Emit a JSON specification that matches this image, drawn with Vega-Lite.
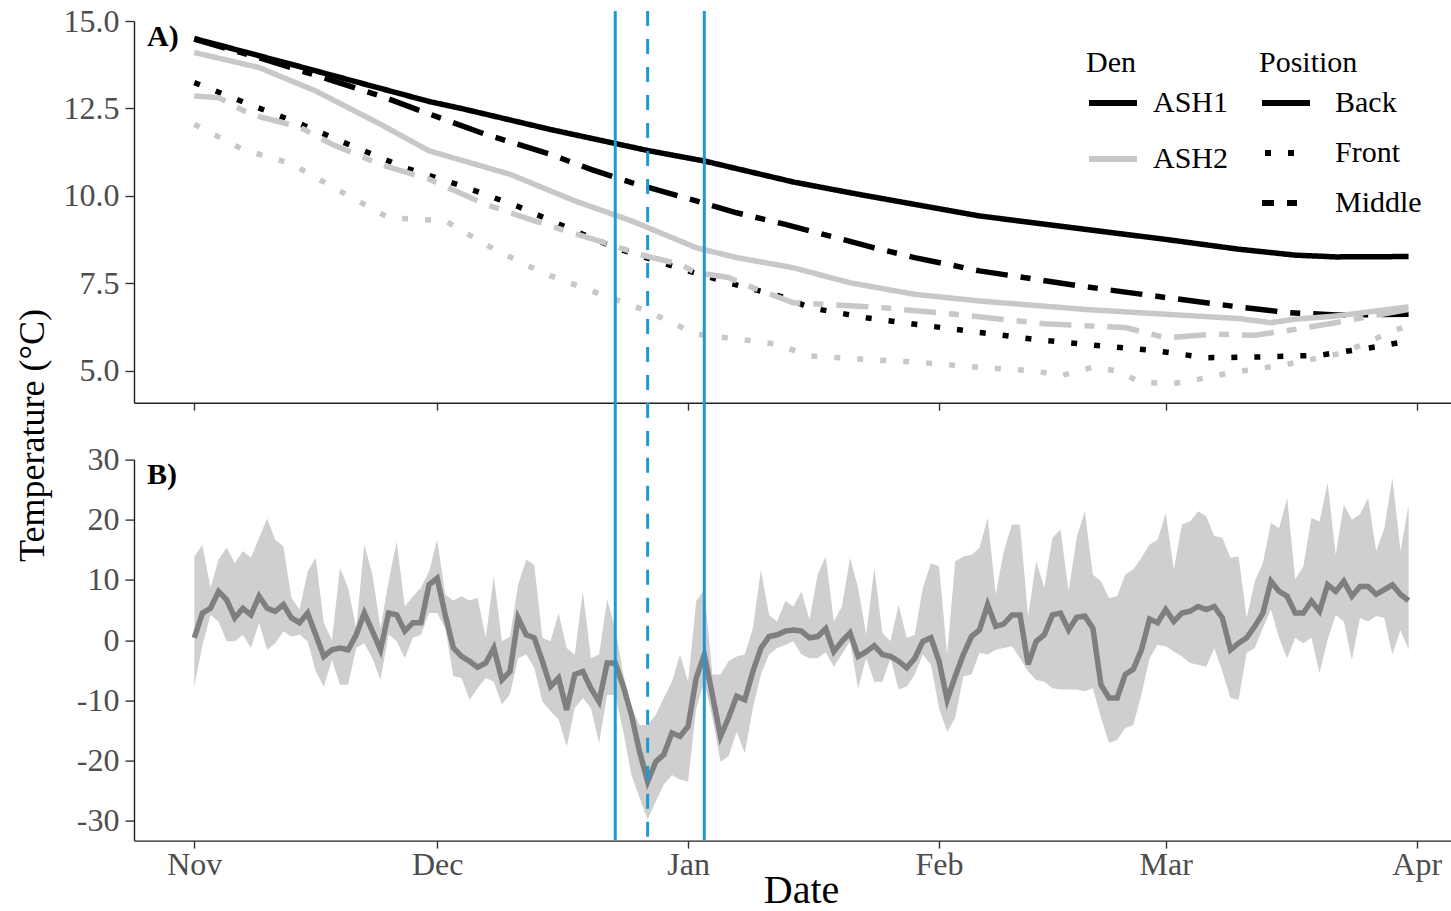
{
  "$schema": "https://vega.github.io/schema/vega-lite/v6.json",
  "background": "white",
  "padding": {"left": 14, "top": 5, "right": 0, "bottom": 0},
  "bounds": "flush",
  "spacing": 56.6,
  "config": {
    "font": "Liberation Serif",
    "view": {"stroke": null},
    "axis": {
      "grid": false,
      "domainColor": "#222222",
      "domainWidth": 1.4,
      "tickColor": "#333333",
      "tickWidth": 1.4,
      "labelFont": "Liberation Serif",
      "labelFontSize": 32,
      "labelColor": "#4d4d4d",
      "titleFont": "Liberation Serif",
      "titleFontSize": 36,
      "titleFontWeight": "normal",
      "titleColor": "#000000"
    }
  },
  "datasets": {
    "den": [
      {"date": "2017-11-01", "den": "ASH1", "pos": "Back", "temp": 14.5},
      {"date": "2017-11-14", "den": "ASH1", "pos": "Back", "temp": 13.7},
      {"date": "2017-11-30", "den": "ASH1", "pos": "Back", "temp": 12.7},
      {"date": "2017-12-04", "den": "ASH1", "pos": "Back", "temp": 12.5},
      {"date": "2017-12-15", "den": "ASH1", "pos": "Back", "temp": 11.9},
      {"date": "2017-12-23", "den": "ASH1", "pos": "Back", "temp": 11.5},
      {"date": "2017-12-27", "den": "ASH1", "pos": "Back", "temp": 11.3},
      {"date": "2018-01-03", "den": "ASH1", "pos": "Back", "temp": 11.0},
      {"date": "2018-01-14", "den": "ASH1", "pos": "Back", "temp": 10.4},
      {"date": "2018-01-22", "den": "ASH1", "pos": "Back", "temp": 10.05},
      {"date": "2018-01-29", "den": "ASH1", "pos": "Back", "temp": 9.76},
      {"date": "2018-02-06", "den": "ASH1", "pos": "Back", "temp": 9.43},
      {"date": "2018-02-19", "den": "ASH1", "pos": "Back", "temp": 9.05},
      {"date": "2018-03-01", "den": "ASH1", "pos": "Back", "temp": 8.76},
      {"date": "2018-03-10", "den": "ASH1", "pos": "Back", "temp": 8.48},
      {"date": "2018-03-17", "den": "ASH1", "pos": "Back", "temp": 8.31},
      {"date": "2018-03-22", "den": "ASH1", "pos": "Back", "temp": 8.26},
      {"date": "2018-03-31", "den": "ASH1", "pos": "Back", "temp": 8.27},

      {"date": "2017-11-01", "den": "ASH1", "pos": "Middle", "temp": 14.48},
      {"date": "2017-11-09", "den": "ASH1", "pos": "Middle", "temp": 13.95},
      {"date": "2017-11-15", "den": "ASH1", "pos": "Middle", "temp": 13.52},
      {"date": "2017-11-24", "den": "ASH1", "pos": "Middle", "temp": 12.86},
      {"date": "2017-11-29", "den": "ASH1", "pos": "Middle", "temp": 12.43},
      {"date": "2017-12-07", "den": "ASH1", "pos": "Middle", "temp": 11.76},
      {"date": "2017-12-15", "den": "ASH1", "pos": "Middle", "temp": 11.19},
      {"date": "2017-12-20", "den": "ASH1", "pos": "Middle", "temp": 10.76},
      {"date": "2017-12-25", "den": "ASH1", "pos": "Middle", "temp": 10.38},
      {"date": "2018-01-02", "den": "ASH1", "pos": "Middle", "temp": 9.86},
      {"date": "2018-01-07", "den": "ASH1", "pos": "Middle", "temp": 9.52},
      {"date": "2018-01-13", "den": "ASH1", "pos": "Middle", "temp": 9.19},
      {"date": "2018-01-24", "den": "ASH1", "pos": "Middle", "temp": 8.52},
      {"date": "2018-01-29", "den": "ASH1", "pos": "Middle", "temp": 8.24},
      {"date": "2018-02-06", "den": "ASH1", "pos": "Middle", "temp": 7.86},
      {"date": "2018-02-19", "den": "ASH1", "pos": "Middle", "temp": 7.41},
      {"date": "2018-03-01", "den": "ASH1", "pos": "Middle", "temp": 7.10},
      {"date": "2018-03-09", "den": "ASH1", "pos": "Middle", "temp": 6.86},
      {"date": "2018-03-16", "den": "ASH1", "pos": "Middle", "temp": 6.67},
      {"date": "2018-03-22", "den": "ASH1", "pos": "Middle", "temp": 6.6},
      {"date": "2018-03-31", "den": "ASH1", "pos": "Middle", "temp": 6.62},

      {"date": "2017-11-01", "den": "ASH1", "pos": "Front", "temp": 13.24},
      {"date": "2017-11-08", "den": "ASH1", "pos": "Front", "temp": 12.6},
      {"date": "2017-11-14", "den": "ASH1", "pos": "Front", "temp": 12.07},
      {"date": "2017-11-21", "den": "ASH1", "pos": "Front", "temp": 11.38},
      {"date": "2017-11-27", "den": "ASH1", "pos": "Front", "temp": 10.81},
      {"date": "2017-12-04", "den": "ASH1", "pos": "Front", "temp": 10.29},
      {"date": "2017-12-11", "den": "ASH1", "pos": "Front", "temp": 9.70},
      {"date": "2017-12-17", "den": "ASH1", "pos": "Front", "temp": 9.10},
      {"date": "2017-12-23", "den": "ASH1", "pos": "Front", "temp": 8.52},
      {"date": "2017-12-30", "den": "ASH1", "pos": "Front", "temp": 8.0},
      {"date": "2018-01-06", "den": "ASH1", "pos": "Front", "temp": 7.52},
      {"date": "2018-01-13", "den": "ASH1", "pos": "Front", "temp": 7.10},
      {"date": "2018-01-16", "den": "ASH1", "pos": "Front", "temp": 6.81},
      {"date": "2018-01-23", "den": "ASH1", "pos": "Front", "temp": 6.52},
      {"date": "2018-01-30", "den": "ASH1", "pos": "Front", "temp": 6.31},
      {"date": "2018-02-06", "den": "ASH1", "pos": "Front", "temp": 6.10},
      {"date": "2018-02-13", "den": "ASH1", "pos": "Front", "temp": 5.90},
      {"date": "2018-02-20", "den": "ASH1", "pos": "Front", "temp": 5.74},
      {"date": "2018-02-27", "den": "ASH1", "pos": "Front", "temp": 5.6},
      {"date": "2018-03-06", "den": "ASH1", "pos": "Front", "temp": 5.38},
      {"date": "2018-03-13", "den": "ASH1", "pos": "Front", "temp": 5.4},
      {"date": "2018-03-20", "den": "ASH1", "pos": "Front", "temp": 5.45},
      {"date": "2018-03-27", "den": "ASH1", "pos": "Front", "temp": 5.69},
      {"date": "2018-03-31", "den": "ASH1", "pos": "Front", "temp": 5.86},

      {"date": "2017-11-01", "den": "ASH2", "pos": "Back", "temp": 14.1},
      {"date": "2017-11-09", "den": "ASH2", "pos": "Back", "temp": 13.67},
      {"date": "2017-11-16", "den": "ASH2", "pos": "Back", "temp": 13.0},
      {"date": "2017-11-24", "den": "ASH2", "pos": "Back", "temp": 12.05},
      {"date": "2017-11-30", "den": "ASH2", "pos": "Back", "temp": 11.29},
      {"date": "2017-12-10", "den": "ASH2", "pos": "Back", "temp": 10.62},
      {"date": "2017-12-18", "den": "ASH2", "pos": "Back", "temp": 9.86},
      {"date": "2017-12-25", "den": "ASH2", "pos": "Back", "temp": 9.29},
      {"date": "2018-01-01", "den": "ASH2", "pos": "Back", "temp": 8.62},
      {"date": "2018-01-02", "den": "ASH2", "pos": "Back", "temp": 8.52},
      {"date": "2018-01-07", "den": "ASH2", "pos": "Back", "temp": 8.24},
      {"date": "2018-01-14", "den": "ASH2", "pos": "Back", "temp": 7.95},
      {"date": "2018-01-21", "den": "ASH2", "pos": "Back", "temp": 7.52},
      {"date": "2018-01-29", "den": "ASH2", "pos": "Back", "temp": 7.19},
      {"date": "2018-02-06", "den": "ASH2", "pos": "Back", "temp": 7.0},
      {"date": "2018-02-19", "den": "ASH2", "pos": "Back", "temp": 6.76},
      {"date": "2018-03-01", "den": "ASH2", "pos": "Back", "temp": 6.62},
      {"date": "2018-03-10", "den": "ASH2", "pos": "Back", "temp": 6.50},
      {"date": "2018-03-14", "den": "ASH2", "pos": "Back", "temp": 6.38},
      {"date": "2018-03-17", "den": "ASH2", "pos": "Back", "temp": 6.48},
      {"date": "2018-03-22", "den": "ASH2", "pos": "Back", "temp": 6.57},
      {"date": "2018-03-31", "den": "ASH2", "pos": "Back", "temp": 6.83},

      {"date": "2017-11-01", "den": "ASH2", "pos": "Middle", "temp": 12.86},
      {"date": "2017-11-04", "den": "ASH2", "pos": "Middle", "temp": 12.81},
      {"date": "2017-11-08", "den": "ASH2", "pos": "Middle", "temp": 12.33},
      {"date": "2017-11-14", "den": "ASH2", "pos": "Middle", "temp": 11.97},
      {"date": "2017-11-18", "den": "ASH2", "pos": "Middle", "temp": 11.48},
      {"date": "2017-11-24", "den": "ASH2", "pos": "Middle", "temp": 10.9},
      {"date": "2017-11-30", "den": "ASH2", "pos": "Middle", "temp": 10.48},
      {"date": "2017-12-07", "den": "ASH2", "pos": "Middle", "temp": 9.76},
      {"date": "2017-12-13", "den": "ASH2", "pos": "Middle", "temp": 9.29},
      {"date": "2017-12-17", "den": "ASH2", "pos": "Middle", "temp": 9.0},
      {"date": "2017-12-23", "den": "ASH2", "pos": "Middle", "temp": 8.57},
      {"date": "2017-12-26", "den": "ASH2", "pos": "Middle", "temp": 8.33},
      {"date": "2017-12-31", "den": "ASH2", "pos": "Middle", "temp": 8.05},
      {"date": "2018-01-02", "den": "ASH2", "pos": "Middle", "temp": 7.81},
      {"date": "2018-01-06", "den": "ASH2", "pos": "Middle", "temp": 7.67},
      {"date": "2018-01-09", "den": "ASH2", "pos": "Middle", "temp": 7.38},
      {"date": "2018-01-14", "den": "ASH2", "pos": "Middle", "temp": 6.95},
      {"date": "2018-01-24", "den": "ASH2", "pos": "Middle", "temp": 6.83},
      {"date": "2018-02-03", "den": "ASH2", "pos": "Middle", "temp": 6.62},
      {"date": "2018-02-14", "den": "ASH2", "pos": "Middle", "temp": 6.35},
      {"date": "2018-02-24", "den": "ASH2", "pos": "Middle", "temp": 6.24},
      {"date": "2018-03-01", "den": "ASH2", "pos": "Middle", "temp": 5.95},
      {"date": "2018-03-07", "den": "ASH2", "pos": "Middle", "temp": 6.05},
      {"date": "2018-03-12", "den": "ASH2", "pos": "Middle", "temp": 6.02},
      {"date": "2018-03-17", "den": "ASH2", "pos": "Middle", "temp": 6.19},
      {"date": "2018-03-22", "den": "ASH2", "pos": "Middle", "temp": 6.38},
      {"date": "2018-03-31", "den": "ASH2", "pos": "Middle", "temp": 6.76},

      {"date": "2017-11-01", "den": "ASH2", "pos": "Front", "temp": 12.05},
      {"date": "2017-11-07", "den": "ASH2", "pos": "Front", "temp": 11.33},
      {"date": "2017-11-13", "den": "ASH2", "pos": "Front", "temp": 10.92},
      {"date": "2017-11-19", "den": "ASH2", "pos": "Front", "temp": 10.14},
      {"date": "2017-11-25", "den": "ASH2", "pos": "Front", "temp": 9.38},
      {"date": "2017-12-02", "den": "ASH2", "pos": "Front", "temp": 9.29},
      {"date": "2017-12-08", "den": "ASH2", "pos": "Front", "temp": 8.48},
      {"date": "2017-12-14", "den": "ASH2", "pos": "Front", "temp": 7.81},
      {"date": "2017-12-20", "den": "ASH2", "pos": "Front", "temp": 7.29},
      {"date": "2017-12-27", "den": "ASH2", "pos": "Front", "temp": 6.71},
      {"date": "2018-01-02", "den": "ASH2", "pos": "Front", "temp": 6.05},
      {"date": "2018-01-09", "den": "ASH2", "pos": "Front", "temp": 5.86},
      {"date": "2018-01-12", "den": "ASH2", "pos": "Front", "temp": 5.76},
      {"date": "2018-01-16", "den": "ASH2", "pos": "Front", "temp": 5.43},
      {"date": "2018-01-23", "den": "ASH2", "pos": "Front", "temp": 5.33},
      {"date": "2018-01-30", "den": "ASH2", "pos": "Front", "temp": 5.24},
      {"date": "2018-02-06", "den": "ASH2", "pos": "Front", "temp": 5.10},
      {"date": "2018-02-13", "den": "ASH2", "pos": "Front", "temp": 5.0},
      {"date": "2018-02-16", "den": "ASH2", "pos": "Front", "temp": 4.86},
      {"date": "2018-02-20", "den": "ASH2", "pos": "Front", "temp": 5.11},
      {"date": "2018-02-23", "den": "ASH2", "pos": "Front", "temp": 5.0},
      {"date": "2018-02-26", "den": "ASH2", "pos": "Front", "temp": 4.67},
      {"date": "2018-03-02", "den": "ASH2", "pos": "Front", "temp": 4.64},
      {"date": "2018-03-05", "den": "ASH2", "pos": "Front", "temp": 4.76},
      {"date": "2018-03-09", "den": "ASH2", "pos": "Front", "temp": 4.95},
      {"date": "2018-03-16", "den": "ASH2", "pos": "Front", "temp": 5.19},
      {"date": "2018-03-23", "den": "ASH2", "pos": "Front", "temp": 5.52},
      {"date": "2018-03-29", "den": "ASH2", "pos": "Front", "temp": 6.14},
      {"date": "2018-03-31", "den": "ASH2", "pos": "Front", "temp": 6.29}
    ],
    "air": [
      {"date": "2017-11-01", "mean": 0.4, "lo": -7.7, "hi": 13.9},
      {"date": "2017-11-02", "mean": 4.5, "lo": -0.8, "hi": 15.8},
      {"date": "2017-11-03", "mean": 5.3, "lo": 4.2, "hi": 8.7},
      {"date": "2017-11-04", "mean": 8.1, "lo": 3.1, "hi": 13.4},
      {"date": "2017-11-05", "mean": 6.7, "lo": -0.2, "hi": 15.4},
      {"date": "2017-11-06", "mean": 3.7, "lo": -0.2, "hi": 12.8},
      {"date": "2017-11-07", "mean": 5.3, "lo": 0.9, "hi": 14.8},
      {"date": "2017-11-08", "mean": 4.2, "lo": -1.3, "hi": 13.7},
      {"date": "2017-11-09", "mean": 7.3, "lo": 2.9, "hi": 17.0},
      {"date": "2017-11-10", "mean": 5.3, "lo": -1.6, "hi": 20.2},
      {"date": "2017-11-11", "mean": 4.8, "lo": -0.5, "hi": 16.7},
      {"date": "2017-11-12", "mean": 5.9, "lo": 1.5, "hi": 15.6},
      {"date": "2017-11-13", "mean": 3.7, "lo": 0.6, "hi": 7.0},
      {"date": "2017-11-14", "mean": 2.9, "lo": 0.9, "hi": 5.1},
      {"date": "2017-11-15", "mean": 4.5, "lo": -0.2, "hi": 11.4},
      {"date": "2017-11-16", "mean": 0.9, "lo": -5.2, "hi": 13.7},
      {"date": "2017-11-17", "mean": -2.7, "lo": -7.7, "hi": 2.9},
      {"date": "2017-11-18", "mean": -1.6, "lo": -3.3, "hi": 0.0},
      {"date": "2017-11-19", "mean": -1.3, "lo": -7.4, "hi": 12.0},
      {"date": "2017-11-20", "mean": -1.6, "lo": -7.4, "hi": 8.7},
      {"date": "2017-11-21", "mean": 0.9, "lo": -1.3, "hi": 2.0},
      {"date": "2017-11-22", "mean": 4.5, "lo": -0.5, "hi": 15.9},
      {"date": "2017-11-23", "mean": 1.5, "lo": -3.0, "hi": 10.9},
      {"date": "2017-11-24", "mean": -1.6, "lo": -6.6, "hi": 2.0},
      {"date": "2017-11-25", "mean": 4.5, "lo": 0.9, "hi": 9.8},
      {"date": "2017-11-26", "mean": 4.2, "lo": -0.2, "hi": 16.4},
      {"date": "2017-11-27", "mean": 1.5, "lo": -3.0, "hi": 5.6},
      {"date": "2017-11-28", "mean": 2.9, "lo": 0.4, "hi": 7.3},
      {"date": "2017-11-29", "mean": 2.9, "lo": 0.9, "hi": 8.7},
      {"date": "2017-11-30", "mean": 9.2, "lo": 4.5, "hi": 11.4},
      {"date": "2017-12-01", "mean": 10.3, "lo": 4.5, "hi": 16.7},
      {"date": "2017-12-02", "mean": 4.2, "lo": 2.0, "hi": 7.6},
      {"date": "2017-12-03", "mean": -1.3, "lo": -6.0, "hi": 6.6},
      {"date": "2017-12-04", "mean": -2.7, "lo": -6.3, "hi": 7.3},
      {"date": "2017-12-05", "mean": -3.5, "lo": -9.9, "hi": 6.6},
      {"date": "2017-12-06", "mean": -4.5, "lo": -8.0, "hi": 7.0},
      {"date": "2017-12-07", "mean": -3.8, "lo": -6.3, "hi": 0.4},
      {"date": "2017-12-08", "mean": -1.3, "lo": -6.9, "hi": 10.6},
      {"date": "2017-12-09", "mean": -6.6, "lo": -10.7, "hi": -0.2},
      {"date": "2017-12-10", "mean": -5.2, "lo": -9.0, "hi": 0.6},
      {"date": "2017-12-11", "mean": 3.7, "lo": -3.0, "hi": 9.2},
      {"date": "2017-12-12", "mean": 0.9, "lo": -2.4, "hi": 13.4},
      {"date": "2017-12-13", "mean": 0.4, "lo": -4.6, "hi": 12.5},
      {"date": "2017-12-14", "mean": -3.5, "lo": -10.2, "hi": 0.4},
      {"date": "2017-12-15", "mean": -7.7, "lo": -11.8, "hi": -0.2},
      {"date": "2017-12-16", "mean": -6.3, "lo": -13.2, "hi": 4.5},
      {"date": "2017-12-17", "mean": -11.6, "lo": -17.7, "hi": -1.3},
      {"date": "2017-12-18", "mean": -5.7, "lo": -11.3, "hi": -2.4},
      {"date": "2017-12-19", "mean": -5.2, "lo": -9.6, "hi": 8.1},
      {"date": "2017-12-20", "mean": -8.0, "lo": -11.3, "hi": -3.0},
      {"date": "2017-12-21", "mean": -10.2, "lo": -17.1, "hi": -2.4},
      {"date": "2017-12-22", "mean": -3.8, "lo": -9.1, "hi": 6.7},
      {"date": "2017-12-23", "mean": -3.8, "lo": -9.1, "hi": 2.0},
      {"date": "2017-12-24", "mean": -7.7, "lo": -15.2, "hi": -5.7},
      {"date": "2017-12-25", "mean": -12.4, "lo": -22.4, "hi": -11.3},
      {"date": "2017-12-26", "mean": -18.5, "lo": -26.2, "hi": -14.1},
      {"date": "2017-12-27", "mean": -23.5, "lo": -29.8, "hi": -14.1},
      {"date": "2017-12-28", "mean": -20.2, "lo": -26.8, "hi": -12.4},
      {"date": "2017-12-29", "mean": -19.0, "lo": -24.0, "hi": -9.6},
      {"date": "2017-12-30", "mean": -15.4, "lo": -22.4, "hi": -6.9},
      {"date": "2017-12-31", "mean": -16.0, "lo": -23.2, "hi": -2.4},
      {"date": "2018-01-01", "mean": -14.3, "lo": -23.5, "hi": -6.9},
      {"date": "2018-01-02", "mean": -6.3, "lo": -11.3, "hi": 6.5},
      {"date": "2018-01-03", "mean": -2.4, "lo": -6.9, "hi": 8.4},
      {"date": "2018-01-04", "mean": -9.1, "lo": -12.9, "hi": -5.7},
      {"date": "2018-01-05", "mean": -16.0, "lo": -20.2, "hi": -5.7},
      {"date": "2018-01-06", "mean": -12.9, "lo": -19.3, "hi": -3.5},
      {"date": "2018-01-07", "mean": -9.3, "lo": -15.2, "hi": -2.7},
      {"date": "2018-01-08", "mean": -9.9, "lo": -18.8, "hi": -2.4},
      {"date": "2018-01-09", "mean": -5.2, "lo": -11.3, "hi": 2.0},
      {"date": "2018-01-10", "mean": -1.3, "lo": -5.7, "hi": 11.7},
      {"date": "2018-01-11", "mean": 0.6, "lo": -2.4, "hi": 4.2},
      {"date": "2018-01-12", "mean": 0.9, "lo": -1.3, "hi": 3.1},
      {"date": "2018-01-13", "mean": 1.5, "lo": -0.8, "hi": 6.5},
      {"date": "2018-01-14", "mean": 1.7, "lo": -0.2, "hi": 5.6},
      {"date": "2018-01-15", "mean": 1.5, "lo": -2.4, "hi": 8.1},
      {"date": "2018-01-16", "mean": 0.4, "lo": -3.0, "hi": 3.4},
      {"date": "2018-01-17", "mean": 0.6, "lo": -3.0, "hi": 10.9},
      {"date": "2018-01-18", "mean": 1.9, "lo": -2.0, "hi": 13.9},
      {"date": "2018-01-19", "mean": -1.9, "lo": -4.4, "hi": 3.1},
      {"date": "2018-01-20", "mean": -0.2, "lo": -2.4, "hi": 5.6},
      {"date": "2018-01-21", "mean": 1.2, "lo": -0.2, "hi": 13.7},
      {"date": "2018-01-22", "mean": -2.7, "lo": -8.0, "hi": 8.7},
      {"date": "2018-01-23", "mean": -1.9, "lo": -3.0, "hi": 0.9},
      {"date": "2018-01-24", "mean": -0.9, "lo": -6.9, "hi": 12.0},
      {"date": "2018-01-25", "mean": -2.4, "lo": -6.9, "hi": 1.2},
      {"date": "2018-01-26", "mean": -2.7, "lo": -3.0, "hi": -0.2},
      {"date": "2018-01-27", "mean": -3.5, "lo": -8.2, "hi": 5.9},
      {"date": "2018-01-28", "mean": -4.6, "lo": -7.7, "hi": 0.4},
      {"date": "2018-01-29", "mean": -3.0, "lo": -5.7, "hi": 0.9},
      {"date": "2018-01-30", "mean": -0.2, "lo": -2.4, "hi": 8.7},
      {"date": "2018-01-31", "mean": 0.4, "lo": -4.1, "hi": 12.8},
      {"date": "2018-02-01", "mean": -3.5, "lo": -11.3, "hi": 12.3},
      {"date": "2018-02-02", "mean": -9.9, "lo": -15.2, "hi": -2.4},
      {"date": "2018-02-03", "mean": -6.0, "lo": -12.9, "hi": 13.1},
      {"date": "2018-02-04", "mean": -2.4, "lo": -6.0, "hi": 13.9},
      {"date": "2018-02-05", "mean": 0.6, "lo": -5.7, "hi": 14.2},
      {"date": "2018-02-06", "mean": 1.7, "lo": -2.1, "hi": 15.3},
      {"date": "2018-02-07", "mean": 5.9, "lo": -2.4, "hi": 20.3},
      {"date": "2018-02-08", "mean": 2.3, "lo": -1.6, "hi": 7.6},
      {"date": "2018-02-09", "mean": 2.7, "lo": -1.3, "hi": 14.8},
      {"date": "2018-02-10", "mean": 4.2, "lo": -1.0, "hi": 19.2},
      {"date": "2018-02-11", "mean": 4.2, "lo": -3.0, "hi": 19.2},
      {"date": "2018-02-12", "mean": -4.0, "lo": -5.2, "hi": 4.0},
      {"date": "2018-02-13", "mean": -0.2, "lo": -6.6, "hi": 13.1},
      {"date": "2018-02-14", "mean": 0.9, "lo": -6.9, "hi": 8.7},
      {"date": "2018-02-15", "mean": 4.2, "lo": -8.0, "hi": 17.0},
      {"date": "2018-02-16", "mean": 4.5, "lo": -8.2, "hi": 18.4},
      {"date": "2018-02-17", "mean": 1.7, "lo": -8.2, "hi": 8.1},
      {"date": "2018-02-18", "mean": 3.8, "lo": -8.2, "hi": 17.0},
      {"date": "2018-02-19", "mean": 4.0, "lo": -8.5, "hi": 21.4},
      {"date": "2018-02-20", "mean": 2.0, "lo": -8.0, "hi": 10.9},
      {"date": "2018-02-21", "mean": -7.4, "lo": -12.9, "hi": 9.8},
      {"date": "2018-02-22", "mean": -9.6, "lo": -17.1, "hi": 7.0},
      {"date": "2018-02-23", "mean": -9.6, "lo": -16.6, "hi": 7.3},
      {"date": "2018-02-24", "mean": -5.7, "lo": -14.6, "hi": 10.9},
      {"date": "2018-02-25", "mean": -4.8, "lo": -14.1, "hi": 11.8},
      {"date": "2018-02-26", "mean": -1.6, "lo": -9.0, "hi": 13.7},
      {"date": "2018-02-27", "mean": 3.5, "lo": -3.0, "hi": 15.9},
      {"date": "2018-02-28", "mean": 2.9, "lo": -0.8, "hi": 16.7},
      {"date": "2018-03-01", "mean": 5.1, "lo": -1.0, "hi": 21.1},
      {"date": "2018-03-02", "mean": 3.1, "lo": -1.9, "hi": 11.7},
      {"date": "2018-03-03", "mean": 4.5, "lo": -2.7, "hi": 19.2},
      {"date": "2018-03-04", "mean": 4.8, "lo": -3.8, "hi": 19.7},
      {"date": "2018-03-05", "mean": 5.6, "lo": -4.1, "hi": 21.4},
      {"date": "2018-03-06", "mean": 5.1, "lo": -4.4, "hi": 20.6},
      {"date": "2018-03-07", "mean": 5.6, "lo": -1.3, "hi": 17.3},
      {"date": "2018-03-08", "mean": 3.7, "lo": -5.2, "hi": 17.0},
      {"date": "2018-03-09", "mean": -1.6, "lo": -9.6, "hi": 13.7},
      {"date": "2018-03-10", "mean": -0.5, "lo": -9.9, "hi": 13.9},
      {"date": "2018-03-11", "mean": 0.4, "lo": -2.1, "hi": 3.7},
      {"date": "2018-03-12", "mean": 2.3, "lo": -1.3, "hi": 9.8},
      {"date": "2018-03-13", "mean": 4.5, "lo": 2.0, "hi": 12.8},
      {"date": "2018-03-14", "mean": 9.8, "lo": 5.1, "hi": 19.5},
      {"date": "2018-03-15", "mean": 8.1, "lo": 0.4, "hi": 18.6},
      {"date": "2018-03-16", "mean": 7.3, "lo": -3.0, "hi": 23.6},
      {"date": "2018-03-17", "mean": 4.5, "lo": 0.4, "hi": 10.1},
      {"date": "2018-03-18", "mean": 4.5, "lo": -0.5, "hi": 12.3},
      {"date": "2018-03-19", "mean": 6.5, "lo": 0.4, "hi": 20.3},
      {"date": "2018-03-20", "mean": 4.8, "lo": -5.5, "hi": 19.7},
      {"date": "2018-03-21", "mean": 9.2, "lo": 0.1, "hi": 26.1},
      {"date": "2018-03-22", "mean": 8.1, "lo": 4.2, "hi": 14.2},
      {"date": "2018-03-23", "mean": 9.8, "lo": 3.1, "hi": 22.5},
      {"date": "2018-03-24", "mean": 7.3, "lo": -3.3, "hi": 20.0},
      {"date": "2018-03-25", "mean": 8.9, "lo": 3.7, "hi": 20.9},
      {"date": "2018-03-26", "mean": 8.9, "lo": 3.1, "hi": 23.6},
      {"date": "2018-03-27", "mean": 7.6, "lo": 4.0, "hi": 14.8},
      {"date": "2018-03-28", "mean": 8.4, "lo": 3.7, "hi": 18.6},
      {"date": "2018-03-29", "mean": 9.2, "lo": -2.4, "hi": 27.0},
      {"date": "2018-03-30", "mean": 7.6, "lo": 1.7, "hi": 14.8},
      {"date": "2018-03-31", "mean": 6.6, "lo": -1.6, "hi": 22.5}
    ],
    "events": [
      {"date": "2017-12-23", "kind": "start"},
      {"date": "2017-12-27", "kind": "peak"},
      {"date": "2018-01-03", "kind": "end"}
    ]
  },
  "vconcat": [
    {
      "width": 1317,
      "height": 381.7,
      "layer": [
        {
          "data": {"name": "den"},
          "mark": {"type": "line", "strokeWidth": 5.5},
          "encoding": {
            "x": {
              "field": "date",
              "type": "temporal",
              "scale": {
                "type": "utc",
                "nice": false,
                "domain": [
                  {"year": 2017, "month": 10, "date": 24, "hours": 13, "minutes": 13, "utc": true},
                  {"year": 2018, "month": 4, "date": 5, "hours": 5, "minutes": 46, "utc": true}
                ]
              },
              "axis": {
                "title": null,
                "labels": false,
                "tickSize": 7.5,
                "values": [
                  {"year": 2017, "month": 11, "date": 1, "utc": true},
                  {"year": 2017, "month": 12, "date": 1, "utc": true},
                  {"year": 2018, "month": 1, "date": 1, "utc": true},
                  {"year": 2018, "month": 2, "date": 1, "utc": true},
                  {"year": 2018, "month": 3, "date": 1, "utc": true},
                  {"year": 2018, "month": 4, "date": 1, "utc": true}
                ]
              }
            },
            "y": {
              "field": "temp",
              "type": "quantitative",
              "scale": {"domain": [4.094, 15], "nice": false, "zero": false},
              "axis": {
                "values": [5, 7.5, 10, 12.5, 15],
                "format": ".1f",
                "tickSize": 9,
                "labelPadding": 6,
                "title": "Temperature (°C)",
                "titleAngle": -90,
                "titleX": -102,
                "titleY": 414,
                "titleAlign": "center",
                "titleBaseline": "middle"
              }
            },
            "color": {
              "field": "den",
              "type": "nominal",
              "scale": {"domain": ["ASH1", "ASH2"], "range": ["#000000", "#c8c8c8"]},
              "legend": {
                "title": "Den",
                "orient": "none",
                "legendX": 952,
                "legendY": 27,
                "padding": 0,
                "symbolType": "stroke",
                "symbolSize": 2304,
                "symbolStrokeWidth": 6,
                "labelFont": "Liberation Serif",
                "labelFontSize": 30,
                "labelColor": "#000000",
                "labelOffset": 13,
                "titleFont": "Liberation Serif",
                "titleFontSize": 30,
                "titleFontWeight": "normal",
                "titleColor": "#000000",
                "titlePadding": -2,
                "rowPadding": 14
              }
            },
            "strokeDash": {
              "field": "pos",
              "type": "nominal",
              "scale": {
                "domain": ["Back", "Front", "Middle"],
                "range": [[1, 0], [6, 17], [32, 13, 10, 13]]
              },
              "legend": {
                "title": "Position",
                "orient": "none",
                "legendX": 1125,
                "legendY": 27,
                "padding": 0,
                "symbolType": "stroke",
                "symbolSize": 2304,
                "symbolStrokeWidth": 6,
                "symbolStrokeColor": "#000000",
                "symbolDashOffset": 20,
                "labelFont": "Liberation Serif",
                "labelFontSize": 30,
                "labelColor": "#000000",
                "labelOffset": 22,
                "titleFont": "Liberation Serif",
                "titleFontSize": 30,
                "titleFontWeight": "normal",
                "titleColor": "#000000",
                "titlePadding": -2,
                "rowPadding": 8
              }
            }
          }
        },
        {
          "data": {"name": "events"},
          "transform": [{"filter": "datum.kind !== 'peak'"}],
          "mark": {"type": "rule", "color": "#1c9ad6", "strokeWidth": 3},
          "encoding": {
            "x": {"field": "date", "type": "temporal"},
            "y": {"datum": 15.286},
            "y2": {"datum": 2.51}
          }
        },
        {
          "data": {"name": "events"},
          "transform": [{"filter": "datum.kind === 'peak'"}],
          "mark": {"type": "rule", "color": "#1c9ad6", "strokeWidth": 3, "strokeDash": [15, 13]},
          "encoding": {
            "x": {"field": "date", "type": "temporal"},
            "y": {"datum": 15.286},
            "y2": {"datum": 2.51}
          }
        },
        {
          "data": {"values": [{}]},
          "mark": {"type": "text", "text": "A)", "font": "Liberation Serif", "fontSize": 30, "fontWeight": "bold", "color": "#000000", "align": "left", "baseline": "alphabetic"},
          "encoding": {
            "x": {"datum": {"year": 2017, "month": 10, "date": 26, "hours": 4, "utc": true}, "type": "temporal"},
            "y": {"datum": 14.29}
          }
        }
      ]
    },
    {
      "width": 1317,
      "height": 381,
      "layer": [
        {
          "data": {"name": "air"},
          "mark": {"type": "area", "color": "#cfcfcf", "opacity": 1},
          "encoding": {
            "x": {
              "field": "date",
              "type": "temporal",
              "scale": {
                "type": "utc",
                "nice": false,
                "domain": [
                  {"year": 2017, "month": 10, "date": 24, "hours": 13, "minutes": 13, "utc": true},
                  {"year": 2018, "month": 4, "date": 5, "hours": 5, "minutes": 46, "utc": true}
                ]
              },
              "axis": {
                "title": "Date",
                "titleFontSize": 40,
                "labelExpr": "utcFormat(datum.value, '%b')",
                "tickSize": 7.5,
                "labelBaseline": "alphabetic",
                "labelPadding": 26,
                "titleY": 62,
                "titleX": 667,
                "titleBaseline": "alphabetic",
                "values": [
                  {"year": 2017, "month": 11, "date": 1, "utc": true},
                  {"year": 2017, "month": 12, "date": 1, "utc": true},
                  {"year": 2018, "month": 1, "date": 1, "utc": true},
                  {"year": 2018, "month": 2, "date": 1, "utc": true},
                  {"year": 2018, "month": 3, "date": 1, "utc": true},
                  {"year": 2018, "month": 4, "date": 1, "utc": true}
                ]
              }
            },
            "y": {
              "field": "hi",
              "type": "quantitative",
              "scale": {"domain": [-33.3, 30], "nice": false, "zero": false},
              "axis": {
                "values": [-30, -20, -10, 0, 10, 20, 30],
                "labelExpr": "'' + datum.value",
                "tickSize": 9,
                "labelPadding": 6,
                "title": null
              }
            },
            "y2": {"field": "lo"}
          }
        },
        {
          "data": {"name": "air"},
          "mark": {"type": "line", "color": "#7f7f7f", "strokeWidth": 5.5},
          "encoding": {
            "x": {"field": "date", "type": "temporal"},
            "y": {"field": "mean", "type": "quantitative"}
          }
        },
        {
          "data": {"name": "events"},
          "transform": [{"filter": "datum.kind !== 'peak'"}],
          "mark": {"type": "rule", "color": "#1c9ad6", "strokeWidth": 3},
          "encoding": {
            "x": {"field": "date", "type": "temporal"},
            "y": {"datum": 30.3},
            "y2": {"datum": -33.3}
          }
        },
        {
          "data": {"name": "events"},
          "transform": [{"filter": "datum.kind === 'peak'"}],
          "mark": {"type": "rule", "color": "#1c9ad6", "strokeWidth": 3, "strokeDash": [15, 13]},
          "encoding": {
            "x": {"field": "date", "type": "temporal"},
            "y": {"datum": 30.3},
            "y2": {"datum": -33.3}
          }
        },
        {
          "data": {"values": [{}]},
          "mark": {"type": "text", "text": "B)", "font": "Liberation Serif", "fontSize": 30, "fontWeight": "bold", "color": "#000000", "align": "left", "baseline": "alphabetic"},
          "encoding": {
            "x": {"datum": {"year": 2017, "month": 10, "date": 26, "hours": 4, "utc": true}, "type": "temporal"},
            "y": {"datum": 25.9}
          }
        }
      ]
    }
  ]
}
